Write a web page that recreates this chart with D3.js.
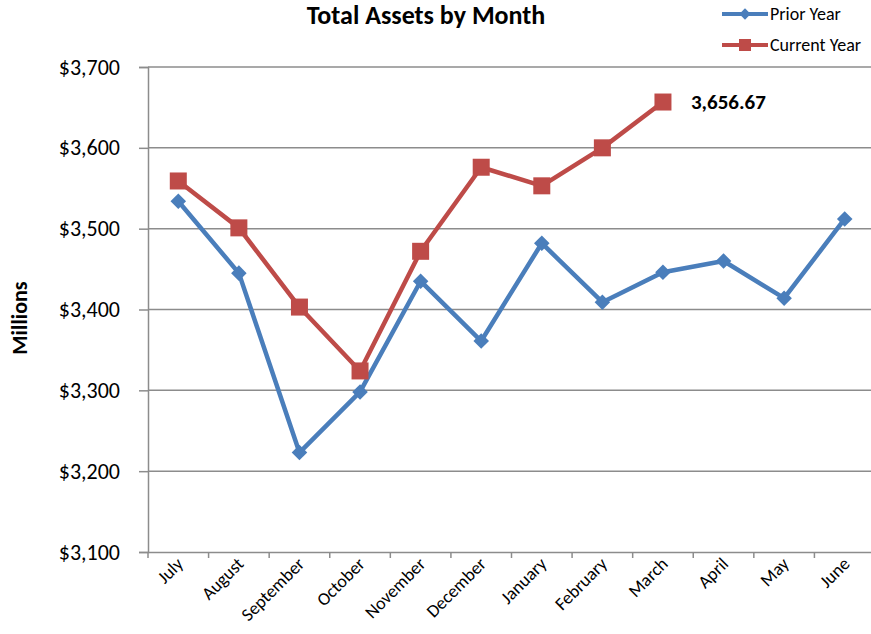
<!DOCTYPE html>
<html>
<head>
<meta charset="utf-8">
<script src="https://cdn.jsdelivr.net/npm/d3@7"></script>
<style>
  body { margin: 0; background: #fff; }
  svg { font-family: Carlito, Lato, "Liberation Sans", sans-serif; }
</style>
</head>
<body>
<div id="chart"></div>
<script>
// Datos
const months = ["July", "August", "September", "October", "November", "December",
  "January", "February", "March", "April", "May", "June"];
const priorYear = [3534, 3445, 3223, 3298, 3435, 3361, 3482, 3409, 3446, 3460, 3414, 3512];
const currentYear = [3559, 3501, 3403, 3324, 3472, 3576, 3553, 3600, 3656.67];
const yTicks = [3100, 3200, 3300, 3400, 3500, 3600, 3700];
const seriesNames = ["Prior Year", "Current Year"];

const WIDTH = 871;
const HEIGHT = 634;
const margin = { top: 67, right: -4, bottom: 82, left: 148 };

const blue = "#4A7EBB";
const red = "#BE4B48";

const svg = d3.select("#chart")
  .append("svg")
  .attr("width", WIDTH)
  .attr("height", HEIGHT);

// Escalas
const x = d3.scaleBand()
  .domain(months)
  .range([margin.left, WIDTH - margin.right]);

const y = d3.scaleLinear()
  .domain([3100, 3700])
  .range([HEIGHT - margin.bottom, margin.top]);

// Grilla
svg.append("g")
  .selectAll("line")
  .data(yTicks.slice(1))
  .join("line")
  .attr("x1", margin.left)
  .attr("x2", WIDTH)
  .attr("y1", d => y(d))
  .attr("y2", d => y(d))
  .attr("stroke", "#8c8c8c")
  .attr("stroke-width", 1.5);

// Eje Y
const yAxis = svg.append("g")
  .attr("transform", `translate(${margin.left},0)`)
  .call(d3.axisLeft(y).tickValues(yTicks).tickSize(9).tickPadding(19)
    .tickFormat(d => "$" + d3.format(",")(d)));
yAxis.select(".domain").attr("stroke", "#8c8c8c").attr("stroke-width", 1.5);
yAxis.selectAll(".tick line").attr("stroke", "#8c8c8c").attr("stroke-width", 1.5);
yAxis.selectAll(".tick text")
  .attr("font-size", 22)
  .attr("font-family", "Carlito, Lato, sans-serif")
  .attr("fill", "#000");

// Eje X
const xAxis = svg.append("g")
  .attr("transform", `translate(0,${y(3100)})`)
  .call(d3.axisBottom(x).tickSize(0).tickPadding(0));
xAxis.select(".domain").attr("stroke", "#8c8c8c").attr("stroke-width", 1.5);
xAxis.selectAll(".tick text")
  .attr("font-size", 18)
  .attr("font-family", "Carlito, Lato, sans-serif")
  .attr("fill", "#000")
  .attr("text-anchor", "end")
  .attr("dy", 0)
  .attr("transform", "translate(6,13) rotate(-45)");

// Marcas del eje X en los bordes de las bandas
svg.append("g")
  .selectAll("line")
  .data(months)
  .join("line")
  .attr("x1", d => x(d))
  .attr("x2", d => x(d))
  .attr("y1", y(3100))
  .attr("y2", y(3100) + 6)
  .attr("stroke", "#8c8c8c")
  .attr("stroke-width", 1.5);

const cx = (d, i) => x(months[i]) + x.bandwidth() / 2;

const line = d3.line()
  .x((d, i) => cx(d, i))
  .y(d => y(d));

// Prior Year
svg.append("path")
  .datum(priorYear)
  .attr("d", line)
  .attr("fill", "none")
  .attr("stroke", blue)
  .attr("stroke-width", 4.5)
  .attr("stroke-linejoin", "round");

svg.append("g")
  .selectAll("rect")
  .data(priorYear)
  .join("rect")
  .attr("x", -5.5)
  .attr("y", -5.5)
  .attr("width", 11)
  .attr("height", 11)
  .attr("fill", blue)
  .attr("transform", (d, i) => `translate(${cx(d, i)},${y(d)}) rotate(45)`);

// Current Year
svg.append("path")
  .datum(currentYear)
  .attr("d", line)
  .attr("fill", "none")
  .attr("stroke", red)
  .attr("stroke-width", 4.5)
  .attr("stroke-linejoin", "round");

svg.append("g")
  .selectAll("rect")
  .data(currentYear)
  .join("rect")
  .attr("x", (d, i) => cx(d, i) - 8.5)
  .attr("y", d => y(d) - 8.5)
  .attr("width", 17)
  .attr("height", 17)
  .attr("fill", red);

// Etiqueta del ultimo valor
const last = currentYear.length - 1;
svg.append("text")
  .attr("x", cx(currentYear[last], last) + 28)
  .attr("y", y(currentYear[last]) + 7)
  .attr("font-size", 21)
  .attr("font-weight", "bold")
  .text(d3.format(",.2f")(currentYear[last]));

// Titulo
svg.append("text")
  .attr("x", 426)
  .attr("y", 24)
  .attr("text-anchor", "middle")
  .attr("font-size", 26)
  .attr("font-weight", "bold")
  .text("Total Assets by Month");

// Titulo eje Y
svg.append("text")
  .attr("transform", "translate(27,318) rotate(-90)")
  .attr("text-anchor", "middle")
  .attr("font-size", 22)
  .attr("font-weight", "bold")
  .text("Millions");

// Leyenda
const legend = svg.append("g")
  .selectAll("g")
  .data(seriesNames)
  .join("g")
  .attr("transform", (d, i) => `translate(722,${14 + i * 31})`);

legend.append("line")
  .attr("x1", 0)
  .attr("x2", 46)
  .attr("stroke", (d, i) => i === 0 ? blue : red)
  .attr("stroke-width", 4);

legend.filter((d, i) => i === 0)
  .append("rect")
  .attr("x", -4)
  .attr("y", -4)
  .attr("width", 8)
  .attr("height", 8)
  .attr("fill", blue)
  .attr("transform", "translate(23,0) rotate(45)");

legend.filter((d, i) => i === 1)
  .append("rect")
  .attr("x", 17)
  .attr("y", -6)
  .attr("width", 12)
  .attr("height", 12)
  .attr("fill", red);

legend.append("text")
  .attr("x", 48)
  .attr("y", 6)
  .attr("font-size", 18)
  .text(d => d);
</script>
</body>
</html>
